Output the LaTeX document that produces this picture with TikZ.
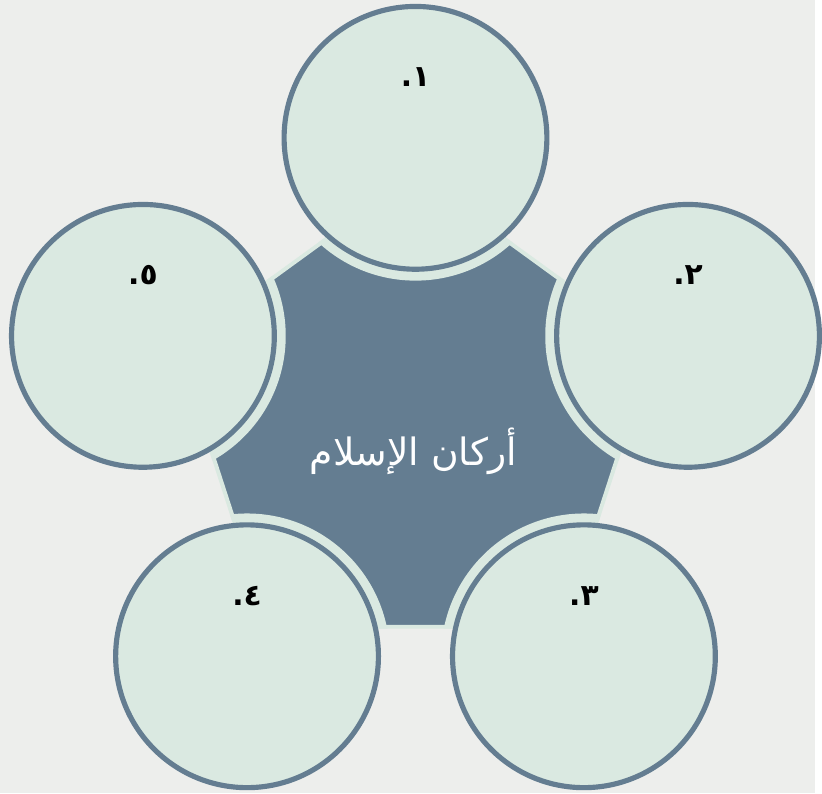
\documentclass[tikz,border=0pt]{standalone}
\usepackage{fontspec}
\newfontfamily\arabicfont[Script=Arabic]{DejaVu Sans}
\TeXXeTstate=1
\usetikzlibrary{positioning}
\definecolor{pillarslate}{HTML}{647D91}
\definecolor{pillarmint}{HTML}{DAE9E1}
\definecolor{pagegray}{HTML}{EDEEEC}

\begin{document}
\begin{tikzpicture}[x=0.5pt, y=0.5pt,
    pillar/.style={circle, draw=pillarslate, line width=2.6pt, fill=pillarmint,
                   minimum size=132.5pt, inner sep=0pt},
    pillarnum/.style={font=\arabicfont\bfseries\fontsize{15}{15}\selectfont, text=black}]
  \fill[pagegray] (0,0) rectangle (822,800);
  \coordinate (hub) at (419,372);
  % central pentagon with the cut-outs
  \draw[pillarmint, line width=2pt, fill=pillarslate, shift={(hub)}]
    (90:252.2) -- (18:252.2) -- (-54:252.2) -- (-126:252.2) -- (162:252.2) -- cycle;
  \begin{scope}
    \clip[shift={(hub)}]
      (90:254.6) -- (18:254.6) -- (-54:254.6) -- (-126:254.6) -- (162:254.6) -- cycle;
    \foreach \a in {90,18,-54,-126,162}
      \fill[pillarmint, shift={(hub)}] (\a:289) circle (144);
  \end{scope}
  \node[font=\arabicfont\fontsize{19}{19}\selectfont, text=white] (title)
    at (417,345) {\beginR أركان الإسلام\endR};
  % the five circles
  \foreach \a/\n [count=\i] in {90/١, 18/٢, -54/٣, -126/٤, 162/٥} {
    \node[pillar] (p\i) at ([shift={(\a:289)}]hub) {};
    \node[pillarnum] (n\i) at ([yshift=30.5pt]p\i.center) {\beginR\n.\endR};
  }
\end{tikzpicture}
\end{document}
